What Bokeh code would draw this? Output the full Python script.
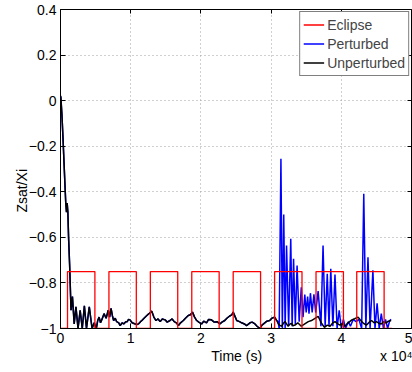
import math
from bokeh.plotting import figure
from bokeh.models import Range1d, Legend, LegendItem, LinearAxis, FixedTicker
from bokeh.embed import file_html
from bokeh.resources import INLINE

# Time axis in units of 1e4 s (scaled to seconds below)
unpert_t = [0.0, 0.005, 0.02, 0.035, 0.05, 0.065, 0.075, 0.085, 0.095, 0.105, 0.115, 0.13,
            0.15, 0.17, 0.195, 0.22, 0.25, 0.28, 0.31, 0.34, 0.37, 0.41, 0.45, 0.48,
            0.51, 0.53, 0.55, 0.57, 0.59, 0.62, 0.65, 0.68, 0.70, 0.72, 0.74, 0.757,
            0.78, 0.80, 0.83, 0.85, 0.88, 0.90, 0.93, 0.95, 0.97, 0.99, 1.02, 1.065,
            1.09, 1.11, 1.14, 1.16, 1.19, 1.23, 1.26, 1.30, 1.33, 1.36, 1.39, 1.42,
            1.45, 1.49, 1.52, 1.56, 1.59, 1.62, 1.65, 1.68, 1.71, 1.75, 1.78, 1.82,
            1.85, 1.88, 1.91, 1.94, 1.97, 2.01, 2.04, 2.08, 2.11, 2.15, 2.19, 2.23,
            2.27, 2.30, 2.34, 2.37, 2.41, 2.44, 2.46, 2.49, 2.51, 2.55, 2.58, 2.62,
            2.65, 2.70, 2.73, 2.77, 2.80, 2.84, 2.87, 2.91, 2.94, 2.98, 3.01, 3.05,
            3.08, 3.10, 3.12, 3.15, 3.18, 3.20, 3.24, 3.27, 3.29, 3.31, 3.34, 3.38,
            3.43, 3.48, 3.53, 3.575, 3.62, 3.67, 3.72, 3.76, 3.80, 3.84, 3.88, 3.91,
            3.95, 3.98, 4.02, 4.05, 4.08, 4.12, 4.15, 4.19, 4.24, 4.29, 4.32, 4.36,
            4.40, 4.43, 4.47, 4.50, 4.54, 4.57, 4.60, 4.64, 4.67, 4.71]
unpert_z = [0.02, 0.015, -0.06, -0.16, -0.27, -0.38, -0.45, -0.49, -0.45, -0.49, -0.60, -0.72,
            -0.92, -0.86, -0.98, -0.905, -1.0, -0.92, -1.0, -0.90, -1.0, -0.905, -1.0, -0.975,
            -1.0, -0.965, -0.95, -0.975, -0.96, -0.935, -0.955, -0.92, -0.95, -0.912, -0.945, -0.965,
            -0.955, -0.97, -0.975, -0.987, -0.975, -0.98, -0.97, -0.97, -0.96, -0.962, -0.975, -0.98,
            -0.983, -0.98, -0.97, -0.965, -0.955, -0.943, -0.935, -0.924, -0.95, -0.965, -0.958, -0.97,
            -0.958, -0.962, -0.972, -0.965, -0.958, -0.97, -0.975, -0.987, -0.975, -0.965, -0.955, -0.943,
            -0.94, -0.928, -0.95, -0.965, -0.972, -0.98, -0.968, -0.975, -0.96, -0.962, -0.972, -0.97,
            -0.98, -0.972, -0.965, -0.955, -0.945, -0.94, -0.928, -0.95, -0.965, -0.97, -0.975, -0.98,
            -0.987, -0.975, -0.972, -0.98, -0.99, -1.0, -0.985, -0.975, -0.968, -0.965, -0.955, -0.95,
            -0.965, -0.978, -0.985, -0.99, -0.975, -0.97, -0.99, -0.98, -0.978, -0.988, -0.985, -0.975,
            -0.99, -0.98, -0.97, -0.965, -0.957, -0.947, -0.978, -0.995, -0.985, -0.99, -0.975, -0.97,
            -0.98, -0.985, -0.978, -0.99, -0.98, -0.97, -0.962, -0.957, -0.95, -0.97, -0.978, -0.985,
            -0.972, -0.965, -0.975, -0.97, -0.978, -0.98, -0.97, -0.975, -0.968, -0.965]

# Perturbed response departs from the unperturbed one after t = 3.08e4 s
pert_split = 3.08
pert_tail_t = [3.10, 3.115, 3.14, 3.16, 3.18, 3.20, 3.22, 3.25, 3.28, 3.30, 3.32, 3.345,
               3.37, 3.40, 3.43, 3.455, 3.48, 3.50, 3.52, 3.54, 3.56, 3.585, 3.61, 3.635,
               3.67, 3.71, 3.74, 3.77, 3.80, 3.825, 3.85, 3.88, 3.91, 3.94, 3.97, 4.00,
               4.03, 4.06, 4.10, 4.13, 4.17, 4.21, 4.25, 4.29, 4.32, 4.35, 4.38, 4.41,
               4.45, 4.48, 4.51, 4.54, 4.57, 4.60, 4.63, 4.66, 4.69, 4.71]
pert_tail_z = [-0.97, -1.0, -0.255, -1.0, -0.50, -1.0, -0.636, -0.99, -0.606, -0.99, -0.694, -0.98,
               -0.724, -0.97, -0.819, -0.95, -0.851, -0.93, -0.86, -0.935, -0.845, -0.93, -0.85, -0.93,
               -0.836, -0.99, -0.636, -0.99, -0.76, -0.99, -0.738, -0.99, -0.763, -1.0, -0.92, -1.0,
               -0.96, -1.0, -0.97, -0.99, -0.96, -0.97, -0.96, -1.0, -0.409, -1.0, -0.687, -1.0,
               -0.745, -1.0, -0.889, -1.0, -0.935, -1.0, -0.96, -1.0, -0.965, -0.96]

# Eclipse windows (1e4 s) and indicator levels
eclipse_start = [0.10, 0.69, 1.28, 1.87, 2.46, 3.05, 3.64, 4.22]
eclipse_end = [0.49, 1.08, 1.67, 2.26, 2.85, 3.44, 4.03, 4.61]
eclipse_on, eclipse_off = -0.75, -1.0
t_final = 4.72

y_ticks = [-1.0, -0.8, -0.6, -0.4, -0.2, 0.0, 0.2, 0.4]
y_labels = ["\u22121", "\u22120.8", "\u22120.6", "\u22120.4", "\u22120.2", "0", "0.2", "0.4"]
x_ticks = [0, 1, 2, 3, 4, 5]
x_labels = ["0", "1", "2", "3", "4", "5"]
x_title = "Time (s)"
x_multiplier = "x 10\u2074"
y_title = "Zsat/Xi"

SCALE = 1e4
FONT = "Liberation Sans"

# square-wave eclipse indicator
ecl_t = [0.0]
ecl_z = [eclipse_off]
for a, b in zip(eclipse_start, eclipse_end):
    ecl_t += [a, a, b, b]
    ecl_z += [eclipse_off, eclipse_on, eclipse_on, eclipse_off]
ecl_t.append(t_final)
ecl_z.append(eclipse_off)

head = [(t, z) for t, z in zip(unpert_t, unpert_z) if t <= pert_split]
pert_t = [t for t, _ in head] + pert_tail_t
pert_z = [z for _, z in head] + pert_tail_z

p = figure(width=412, height=372, output_backend="svg", toolbar_location=None,
           x_range=Range1d(0, 5 * SCALE), y_range=Range1d(-1, 0.4),
           min_border_left=60, min_border_right=1, min_border_top=9, min_border_bottom=44)
p.background_fill_color = "white"
p.border_fill_color = "white"
p.outline_line_color = "black"
p.outline_line_width = 1

r_pert = p.line([t * SCALE for t in pert_t], pert_z, line_color="#0000ff", line_width=1.5)
r_unp = p.line([t * SCALE for t in unpert_t], unpert_z, line_color="#000000", line_width=1.5)
r_ecl = p.line([t * SCALE for t in ecl_t], ecl_z, line_color="#ff0000", line_width=1.3)


def style_axis(ax, size="14px"):
    ax.major_tick_in = 5
    ax.major_tick_out = 0
    ax.minor_tick_in = 0
    ax.minor_tick_out = 0
    ax.axis_line_color = "black"
    ax.major_tick_line_color = "black"
    ax.major_label_text_font = FONT
    ax.major_label_text_font_size = size
    ax.major_label_text_color = "black"


style_axis(p.xaxis[0])
style_axis(p.yaxis[0])

p.xaxis.ticker = FixedTicker(ticks=[t * SCALE for t in x_ticks])
p.xaxis.major_label_overrides = {t * SCALE: s for t, s in zip(x_ticks, x_labels)}
p.xaxis.major_label_standoff = 4

p.yaxis.ticker = FixedTicker(ticks=y_ticks)
p.yaxis.major_label_overrides = {t: s for t, s in zip(y_ticks, y_labels)}
p.yaxis.major_label_standoff = 4

# outer caption rows: x title with the power-of-ten multiplier, and the y title
x_cap = LinearAxis(ticker=FixedTicker(ticks=[2.51 * SCALE, 4.79 * SCALE]),
                   major_label_overrides={2.51 * SCALE: x_title, 4.79 * SCALE: x_multiplier})
y_cap = LinearAxis(ticker=FixedTicker(ticks=[-0.3]), major_label_overrides={-0.3: y_title},
                   major_label_orientation=math.pi / 2)
for ax in (x_cap, y_cap):
    style_axis(ax)
    ax.axis_line_color = None
    ax.major_tick_line_color = None
    ax.major_tick_in = 0
x_cap.major_label_standoff = 2
y_cap.major_label_standoff = 4
p.add_layout(x_cap, "below")
p.add_layout(y_cap, "left")

# box ticks on the top and right edges
for side in ("above", "right"):
    ax = LinearAxis(ticker=FixedTicker(ticks=[t * SCALE for t in x_ticks] if side == "above" else y_ticks))
    style_axis(ax, "0px")
    ax.major_tick_in = 4
    ax.major_label_standoff = 0
    ax.axis_line_color = None
    ax.major_label_overrides = ({t * SCALE: "" for t in x_ticks} if side == "above"
                                else {t: "" for t in y_ticks})
    p.add_layout(ax, side)

for g in (p.xgrid[0], p.ygrid[0]):
    g.grid_line_color = "#a0a0a0"
    g.grid_line_dash = "1 3"
    g.grid_line_width = 1

legend = Legend(items=[LegendItem(label="Eclipse", renderers=[r_ecl]),
                       LegendItem(label="Perturbed", renderers=[r_pert]),
                       LegendItem(label="Unperturbed", renderers=[r_unp])],
                location="top_right")
legend.margin = 2
legend.padding = 3
legend.spacing = 0
legend.glyph_width = 21
legend.glyph_height = 19
legend.label_height = 19
legend.label_standoff = 3
legend.label_text_font = FONT
legend.label_text_font_size = "14px"
legend.border_line_color = "black"
legend.border_line_width = 1
legend.background_fill_alpha = 1
p.add_layout(legend)

open("out.html", "w").write(file_html(p, INLINE))
